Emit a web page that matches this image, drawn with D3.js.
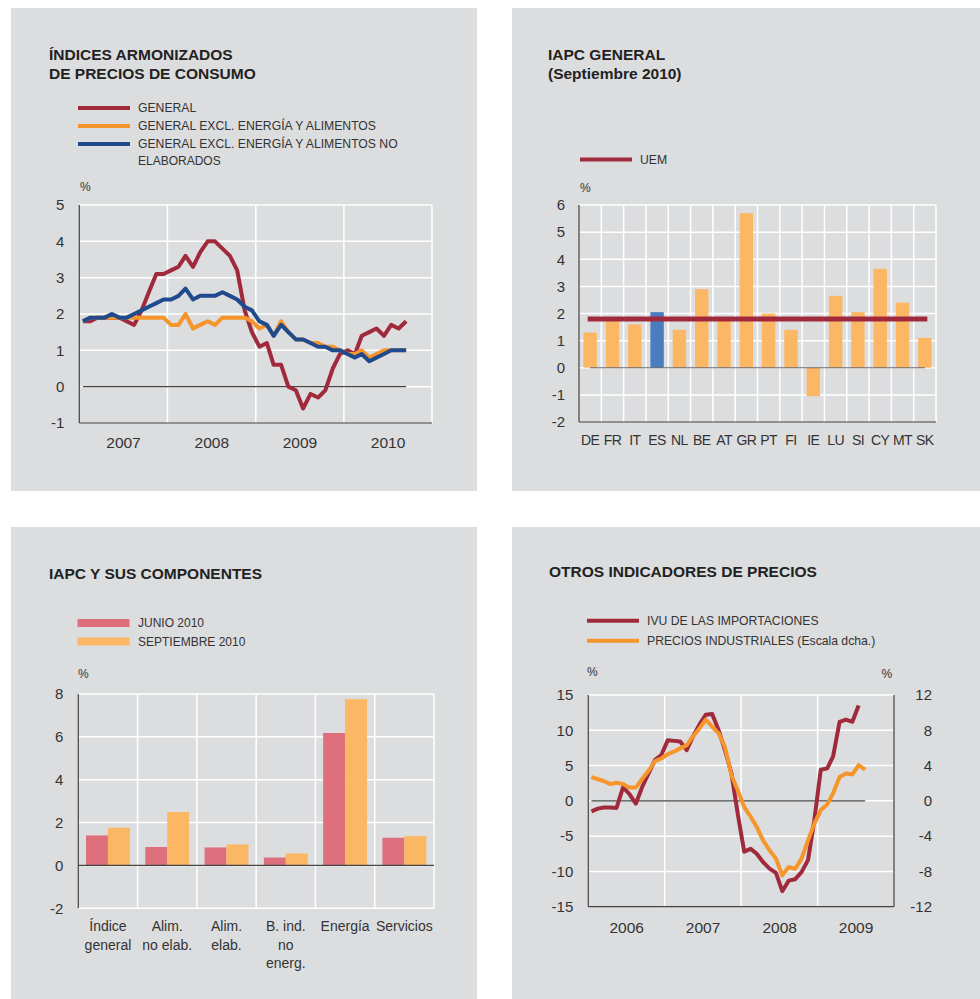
<!DOCTYPE html>
<html>
<head>
<meta charset="utf-8">
<script src="https://cdn.jsdelivr.net/npm/d3@7"></script>
<style>
  body { margin: 0; background: #fff; }
  svg text { font-family: "Liberation Sans", Arial, sans-serif; }
</style>
</head>
<body>
<svg id="chart" width="980" height="999"></svg>
<script>
// ---- data ----
// panel 1: HICP, monthly Jan 2007 - Sep 2010
var hicpStart = [ 2007, 0 ];
var hicpGeneral = [ 1.8, 1.8, 1.9, 1.9, 1.9, 1.9, 1.8, 1.7, 2.1, 2.6, 3.1, 3.1,
    3.2, 3.3, 3.6, 3.3, 3.7, 4.0, 4.0, 3.8, 3.6, 3.2, 2.1, 1.5,
    1.1, 1.2, 0.6, 0.6, 0.0, -0.1, -0.6, -0.2, -0.3, -0.1, 0.5, 0.9,
    1.0, 0.9, 1.4, 1.5, 1.6, 1.4, 1.7, 1.6, 1.8 ];
var hicpCore = [ 1.8, 1.9, 1.9, 1.9, 1.9, 1.9, 1.9, 1.9, 1.9, 1.9, 1.9, 1.9,
    1.7, 1.7, 2.0, 1.6, 1.7, 1.8, 1.7, 1.9, 1.9, 1.9, 1.9, 1.8,
    1.6, 1.7, 1.4, 1.8, 1.5, 1.3, 1.3, 1.2, 1.2, 1.1, 1.1, 1.0,
    0.9, 0.9, 1.0, 0.8, 0.9, 1.0, 1.0, 1.0, 1.0 ];
var hicpCoreProc = [ 1.8, 1.9, 1.9, 1.9, 2.0, 1.9, 1.9, 2.0, 2.1, 2.2, 2.3, 2.4,
    2.4, 2.5, 2.7, 2.4, 2.5, 2.5, 2.5, 2.6, 2.5, 2.4, 2.2, 2.1,
    1.8, 1.7, 1.4, 1.7, 1.5, 1.3, 1.3, 1.2, 1.1, 1.1, 1.0, 1.0,
    0.9, 0.8, 0.9, 0.7, 0.8, 0.9, 1.0, 1.0, 1.0 ];
var hicpYears = [ 2007, 2008, 2009, 2010 ];
var hicpTicks = [ -1, 0, 1, 2, 3, 4, 5 ];

// panel 2: HICP by country, Sep 2010
var countries = [ "DE", "FR", "IT", "ES", "NL", "BE", "AT", "GR", "PT", "FI", "IE", "LU", "SI", "CY", "MT", "SK" ];
var countryValues = [ 1.3, 1.8, 1.6, 2.05, 1.4, 2.9, 1.8, 5.7, 2.0, 1.4, -1.05, 2.65, 2.05, 3.65, 2.4, 1.1 ];
var uemValue = 1.8;
var countryTicks = [ -2, -1, 0, 1, 2, 3, 4, 5, 6 ];

// panel 3: components
var components = [ "Índice general", "Alim. no elab.", "Alim. elab.", "B. ind. no energ.", "Energía", "Servicios" ];
var componentLabels = [ [ "Índice", "general" ], [ "Alim.", "no elab." ], [ "Alim.", "elab." ], [ "B. ind.", "no", "energ." ], [ "Energía" ], [ "Servicios" ] ];
var junio2010 = [ 1.4, 0.86, 0.84, 0.37, 6.18, 1.29 ];
var septiembre2010 = [ 1.76, 2.49, 0.98, 0.56, 7.76, 1.37 ];
var componentTicks = [ -2, 0, 2, 4, 6, 8 ];

// panel 4: other price indicators, monthly from Jan 2006
var otrosStart = [ 2006, 0 ];
var ivuImport = [ -1.5, -1.1, -0.95, -0.95, -1.0, 1.9, 1.0, -0.4, 2.0, 3.9, 5.8, 6.5,
    8.6, 8.5, 8.4, 7.2, 9.1, 10.8, 12.2, 12.3, 10.0, 7.2, 3.9, -1.8,
    -7.2, -6.8, -7.5, -8.7, -9.6, -10.2, -12.8, -11.3, -11.1, -10.1, -8.4, -2.8,
    4.4, 4.6, 6.3, 11.2, 11.5, 11.2, 13.5 ];
var preciosInd = [ 2.7, 2.45, 2.25, 1.9, 2.05, 1.9, 1.5, 1.5, 2.5, 3.4, 4.5, 4.8,
    5.3, 5.6, 5.95, 6.3, 7.3, 8.2, 9.2, 8.4, 7.65, 6.1, 2.9, 1.2,
    -0.7, -1.8, -2.95, -4.5, -5.6, -6.55, -8.45, -7.5, -7.7, -6.55, -4.5, -2.6,
    -1.05, -0.4, 0.85, 2.7, 3.1, 3.0, 4.05, 3.55 ];
var otrosYears = [ 2006, 2007, 2008, 2009 ];
var leftTicks = [ -15, -10, -5, 0, 5, 10, 15 ];
var rightTicks = [ -12, -8, -4, 0, 4, 8, 12 ];

// colours
var gray = "#dcdddf";
var red = "#a02a3c";
var orange = "#f5952a";
var blue = "#1f4b8e";
var pink = "#de6f7d";
var lightOrange = "#fcb765";
var esBlue = "#4a7dc0";
var axisColor = "#444";
var textColor = "#333";

var svg = d3.select( "#chart" );
var plain = function ( d ) { return String( d ); }; // hyphen minus like the original

function monthDates( start, n ) {
    return d3.range( n ).map( function ( i ) {
        return new Date( start[ 0 ], start[ 1 ] + i, 16 );
    } );
}

function panel( x, y, w, h ) {
    svg.append( "rect" ).attr( "x", x ).attr( "y", y ).attr( "width", w ).attr( "height", h ).attr( "fill", gray );
}

function title( x, y, lines ) {
    var t = svg.append( "text" ).attr( "x", x ).attr( "y", y )
        .attr( "font-size", 15.5 ).attr( "font-weight", "bold" ).attr( "fill", "#222" );
    lines.forEach( function ( l, i ) {
        t.append( "tspan" ).attr( "x", x ).attr( "dy", i ? 19 : 0 ).text( l );
    } );
}

function legendLine( x, y, color, label, thick ) {
    svg.append( "line" ).attr( "x1", x ).attr( "x2", x + 52 ).attr( "y1", y ).attr( "y2", y )
        .attr( "stroke", color ).attr( "stroke-width", thick || 4 );
    svg.append( "text" ).attr( "x", x + 60 ).attr( "y", y + 4.3 ).attr( "font-size", 12.2 )
        .attr( "fill", textColor ).text( label );
}

function smallText( x, y, s, anchor ) {
    svg.append( "text" ).attr( "x", x ).attr( "y", y ).attr( "font-size", 12 )
        .attr( "fill", textColor ).attr( "text-anchor", anchor || "start" ).text( s );
}

function styleAxis( g, size ) {
    g.select( ".domain" ).remove();
    g.selectAll( "text" ).attr( "font-size", size ).attr( "fill", textColor )
        .attr( "font-family", "Liberation Sans, Arial, sans-serif" );
}

function hGrid( yScale, ticks, x0, x1 ) {
    svg.append( "g" ).selectAll( "line" ).data( ticks ).enter().append( "line" )
        .attr( "x1", x0 ).attr( "x2", x1 )
        .attr( "y1", function ( d ) { return yScale( d ); } )
        .attr( "y2", function ( d ) { return yScale( d ); } )
        .attr( "stroke", "#fff" ).attr( "stroke-width", 1.5 );
}

function vGrid( xs, y0, y1 ) {
    svg.append( "g" ).selectAll( "line" ).data( xs ).enter().append( "line" )
        .attr( "x1", function ( d ) { return d; } ).attr( "x2", function ( d ) { return d; } )
        .attr( "y1", y0 ).attr( "y2", y1 )
        .attr( "stroke", "#fff" ).attr( "stroke-width", 1.5 );
}

function axisLine( x1, y1, x2, y2 ) {
    svg.append( "line" ).attr( "x1", x1 ).attr( "y1", y1 ).attr( "x2", x2 ).attr( "y2", y2 )
        .attr( "stroke", axisColor ).attr( "stroke-width", 1.2 );
}

// ================= PANEL 1 =================
panel( 11, 8, 466, 483 );
title( 49, 60, [ "ÍNDICES ARMONIZADOS", "DE PRECIOS DE CONSUMO" ] );
legendLine( 78, 108, red, "GENERAL" );
legendLine( 78, 126, orange, "GENERAL EXCL. ENERGÍA Y ALIMENTOS" );
legendLine( 78, 144, blue, "GENERAL EXCL. ENERGÍA Y ALIMENTOS NO" );
smallText( 138, 164.5, "ELABORADOS" );
smallText( 80, 191, "%" );

var p1 = { l: 79.3, r: 432, t: 205, b: 423 };
var x1 = d3.scaleTime().domain( [ new Date( 2007, 0, 1 ), new Date( 2011, 0, 1 ) ] ).range( [ p1.l, p1.r ] );
var y1 = d3.scaleLinear().domain( [ -1, 5 ] ).range( [ p1.b, p1.t ] );
var dates1 = monthDates( hicpStart, hicpGeneral.length );

hGrid( y1, hicpTicks.slice( 1 ), p1.l, p1.r );
vGrid( [ 2008, 2009, 2010, 2011 ].map( function ( yr ) { return x1( new Date( yr, 0, 1 ) ); } ), p1.t, p1.b );
axisLine( p1.l, p1.t, p1.l, p1.b );
axisLine( p1.l, p1.b, p1.r, p1.b );
axisLine( x1( dates1[ 0 ] ), y1( 0 ), x1( dates1[ dates1.length - 1 ] ), y1( 0 ) );

svg.append( "g" ).attr( "transform", "translate(" + p1.l + ",0)" )
    .call( d3.axisLeft( y1 ).tickValues( hicpTicks ).tickSize( 0 ).tickPadding( 15 ).tickFormat( plain ) )
    .call( styleAxis, 15 );
svg.append( "g" ).attr( "transform", "translate(0," + p1.b + ")" )
    .call( d3.axisBottom( x1 ).tickValues( hicpYears.map( function ( yr ) { return new Date( yr, 6, 1 ); } ) )
        .tickSize( 0 ).tickPadding( 14 ).tickFormat( d3.timeFormat( "%Y" ) ) )
    .call( styleAxis, 15.5 );

var line1 = d3.line()
    .x( function ( d, i ) { return x1( dates1[ i ] ); } )
    .y( function ( d ) { return y1( d ); } );
[ [ hicpGeneral, red ], [ hicpCore, orange ], [ hicpCoreProc, blue ] ].forEach( function ( s ) {
    svg.append( "path" ).datum( s[ 0 ] ).attr( "d", line1 )
        .attr( "fill", "none" ).attr( "stroke", s[ 1 ] ).attr( "stroke-width", 4 )
        .attr( "stroke-linejoin", "round" );
} );

// ================= PANEL 2 =================
panel( 512, 8, 468, 483 );
title( 548, 60, [ "IAPC GENERAL", "(Septiembre 2010)" ] );
legendLine( 580, 159.5, red, "UEM" );
smallText( 580, 192, "%" );

var p2 = { l: 579, r: 936, t: 205, b: 422 };
var x2 = d3.scaleBand().domain( countries ).range( [ p2.l, p2.r ] ).padding( 0 );
var y2 = d3.scaleLinear().domain( [ -2, 6 ] ).range( [ p2.b, p2.t ] );
var bw2 = x2.bandwidth();

hGrid( y2, countryTicks.slice( 1 ), p2.l, p2.r );
vGrid( countries.slice( 1 ).map( function ( c ) { return x2( c ); } ).concat( [ p2.r ] ), p2.t, p2.b );

svg.append( "g" ).selectAll( "rect" ).data( countryValues ).enter().append( "rect" )
    .attr( "x", function ( d, i ) { return x2( countries[ i ] ) + bw2 * 0.2; } )
    .attr( "width", bw2 * 0.6 )
    .attr( "y", function ( d ) { return y2( Math.max( 0, d ) ); } )
    .attr( "height", function ( d ) { return Math.abs( y2( d ) - y2( 0 ) ); } )
    .attr( "fill", function ( d, i ) { return countries[ i ] === "ES" ? esBlue : lightOrange; } );

axisLine( p2.l, p2.t, p2.l, p2.b );
axisLine( p2.l, p2.b, p2.r, p2.b );
svg.append( "line" ).attr( "x1", x2( "DE" ) + bw2 / 2 ).attr( "x2", x2( "SK" ) + bw2 / 2 )
    .attr( "y1", y2( 0 ) ).attr( "y2", y2( 0 ) ).attr( "stroke", "#666" ).attr( "stroke-width", 1.2 );
svg.append( "line" ).attr( "x1", x2( "DE" ) + bw2 / 2 - 2.5 ).attr( "x2", x2( "SK" ) + bw2 / 2 + 2.5 )
    .attr( "y1", y2( uemValue ) ).attr( "y2", y2( uemValue ) )
    .attr( "stroke", red ).attr( "stroke-width", 5 );

svg.append( "g" ).attr( "transform", "translate(" + p2.l + ",0)" )
    .call( d3.axisLeft( y2 ).tickValues( countryTicks ).tickSize( 0 ).tickPadding( 14 ).tickFormat( plain ) )
    .call( styleAxis, 15 );
svg.append( "g" ).attr( "transform", "translate(0," + p2.b + ")" )
    .call( d3.axisBottom( x2 ).tickSize( 0 ).tickPadding( 13 ) )
    .call( styleAxis, 14 )
    .selectAll( "text" ).attr( "letter-spacing", -0.6 );

// ================= PANEL 3 =================
panel( 11, 527, 466, 472 );
title( 49, 578.5, [ "IAPC Y SUS COMPONENTES" ] );
svg.append( "rect" ).attr( "x", 77.5 ).attr( "y", 619 ).attr( "width", 52 ).attr( "height", 8 ).attr( "fill", pink );
svg.append( "rect" ).attr( "x", 77.5 ).attr( "y", 637.5 ).attr( "width", 52 ).attr( "height", 8 ).attr( "fill", lightOrange );
smallText( 138, 627.3, "JUNIO 2010" );
smallText( 138, 645.8, "SEPTIEMBRE 2010" );
smallText( 78, 678, "%" );

var p3 = { l: 78.3, r: 434, t: 694, b: 908.3 };
var x3 = d3.scaleBand().domain( components ).range( [ p3.l, p3.r ] ).padding( 0 );
var x3in = d3.scaleBand().domain( [ "jun", "sep" ] ).range( [ x3.bandwidth() * 0.13, x3.bandwidth() * 0.87 ] ).padding( 0 );
var y3 = d3.scaleLinear().domain( [ -2, 8 ] ).range( [ p3.b, p3.t ] );

hGrid( y3, componentTicks, p3.l, p3.r );
vGrid( components.slice( 1 ).map( function ( c ) { return x3( c ); } ).concat( [ p3.r ] ), p3.t, p3.b );

[ [ junio2010, "jun", pink ], [ septiembre2010, "sep", lightOrange ] ].forEach( function ( s ) {
    svg.append( "g" ).selectAll( "rect" ).data( s[ 0 ] ).enter().append( "rect" )
        .attr( "x", function ( d, i ) { return x3( components[ i ] ) + x3in( s[ 1 ] ); } )
        .attr( "width", x3in.bandwidth() )
        .attr( "y", function ( d ) { return y3( Math.max( 0, d ) ); } )
        .attr( "height", function ( d ) { return Math.abs( y3( d ) - y3( 0 ) ); } )
        .attr( "fill", s[ 2 ] );
} );

axisLine( p3.l, p3.t, p3.l, p3.b );
axisLine( p3.l, y3( 0 ), p3.r, y3( 0 ) );

svg.append( "g" ).attr( "transform", "translate(" + p3.l + ",0)" )
    .call( d3.axisLeft( y3 ).tickValues( componentTicks ).tickSize( 0 ).tickPadding( 15 ).tickFormat( plain ) )
    .call( styleAxis, 15 );
var ax3 = svg.append( "g" ).attr( "transform", "translate(0," + p3.b + ")" )
    .call( d3.axisBottom( x3 ).tickSize( 0 ).tickPadding( 13 ) )
    .call( styleAxis, 14 );
ax3.selectAll( ".tick text" ).each( function ( d, i ) {
    var t = d3.select( this ).text( null );
    componentLabels[ i ].forEach( function ( l, j ) {
        t.append( "tspan" ).attr( "x", 0 ).attr( "dy", j ? 18.3 : "0.71em" ).text( l );
    } );
} );

// ================= PANEL 4 =================
panel( 512, 527, 468, 472 );
title( 549, 577, [ "OTROS INDICADORES DE PRECIOS" ] );
legendLine( 587, 620.7, red, "IVU DE LAS IMPORTACIONES" );
legendLine( 587, 640.7, orange, "PRECIOS INDUSTRIALES (Escala dcha.)" );
smallText( 587, 676, "%" );
smallText( 881.5, 677.5, "%" );

var p4 = { l: 588.3, r: 894, t: 695, b: 906.7 };
var x4 = d3.scaleTime().domain( [ new Date( 2006, 0, 1 ), new Date( 2010, 0, 1 ) ] ).range( [ p4.l, p4.r ] );
var y4 = d3.scaleLinear().domain( [ -15, 15 ] ).range( [ p4.b, p4.t ] );
var y4r = d3.scaleLinear().domain( [ -12, 12 ] ).range( [ p4.b, p4.t ] );
var dates4a = monthDates( otrosStart, ivuImport.length );
var dates4b = monthDates( otrosStart, preciosInd.length );

hGrid( y4, leftTicks.slice( 1 ), p4.l, p4.r );
vGrid( [ 2007, 2008, 2009 ].map( function ( yr ) { return x4( new Date( yr, 0, 1 ) ); } ), p4.t, p4.b );
axisLine( p4.l, p4.t, p4.l, p4.b );
axisLine( p4.r, p4.t, p4.r, p4.b );
axisLine( p4.l, p4.b, p4.r, p4.b );
axisLine( x4( dates4b[ 0 ] ), y4( 0 ), x4( dates4b[ dates4b.length - 1 ] ), y4( 0 ) );

svg.append( "g" ).attr( "transform", "translate(" + p4.l + ",0)" )
    .call( d3.axisLeft( y4 ).tickValues( leftTicks ).tickSize( 0 ).tickPadding( 15 ).tickFormat( plain ) )
    .call( styleAxis, 15 );
svg.append( "g" ).attr( "transform", "translate(" + p4.r + ",0)" )
    .call( d3.axisRight( y4r ).tickValues( rightTicks ).tickSize( 0 ).tickPadding( 19 ).tickFormat( plain ) )
    .call( styleAxis, 15 )
    .selectAll( "text" ).attr( "text-anchor", "end" ).attr( "x", 38 );
svg.append( "g" ).attr( "transform", "translate(0," + p4.b + ")" )
    .call( d3.axisBottom( x4 ).tickValues( otrosYears.map( function ( yr ) { return new Date( yr, 6, 1 ); } ) )
        .tickSize( 0 ).tickPadding( 15 ).tickFormat( d3.timeFormat( "%Y" ) ) )
    .call( styleAxis, 15.5 );

svg.append( "path" ).datum( ivuImport )
    .attr( "d", d3.line().x( function ( d, i ) { return x4( dates4a[ i ] ); } ).y( function ( d ) { return y4( d ); } ) )
    .attr( "fill", "none" ).attr( "stroke", red ).attr( "stroke-width", 4 ).attr( "stroke-linejoin", "round" );
svg.append( "path" ).datum( preciosInd )
    .attr( "d", d3.line().x( function ( d, i ) { return x4( dates4b[ i ] ); } ).y( function ( d ) { return y4r( d ); } ) )
    .attr( "fill", "none" ).attr( "stroke", orange ).attr( "stroke-width", 4 ).attr( "stroke-linejoin", "round" );
</script>
</body>
</html>
